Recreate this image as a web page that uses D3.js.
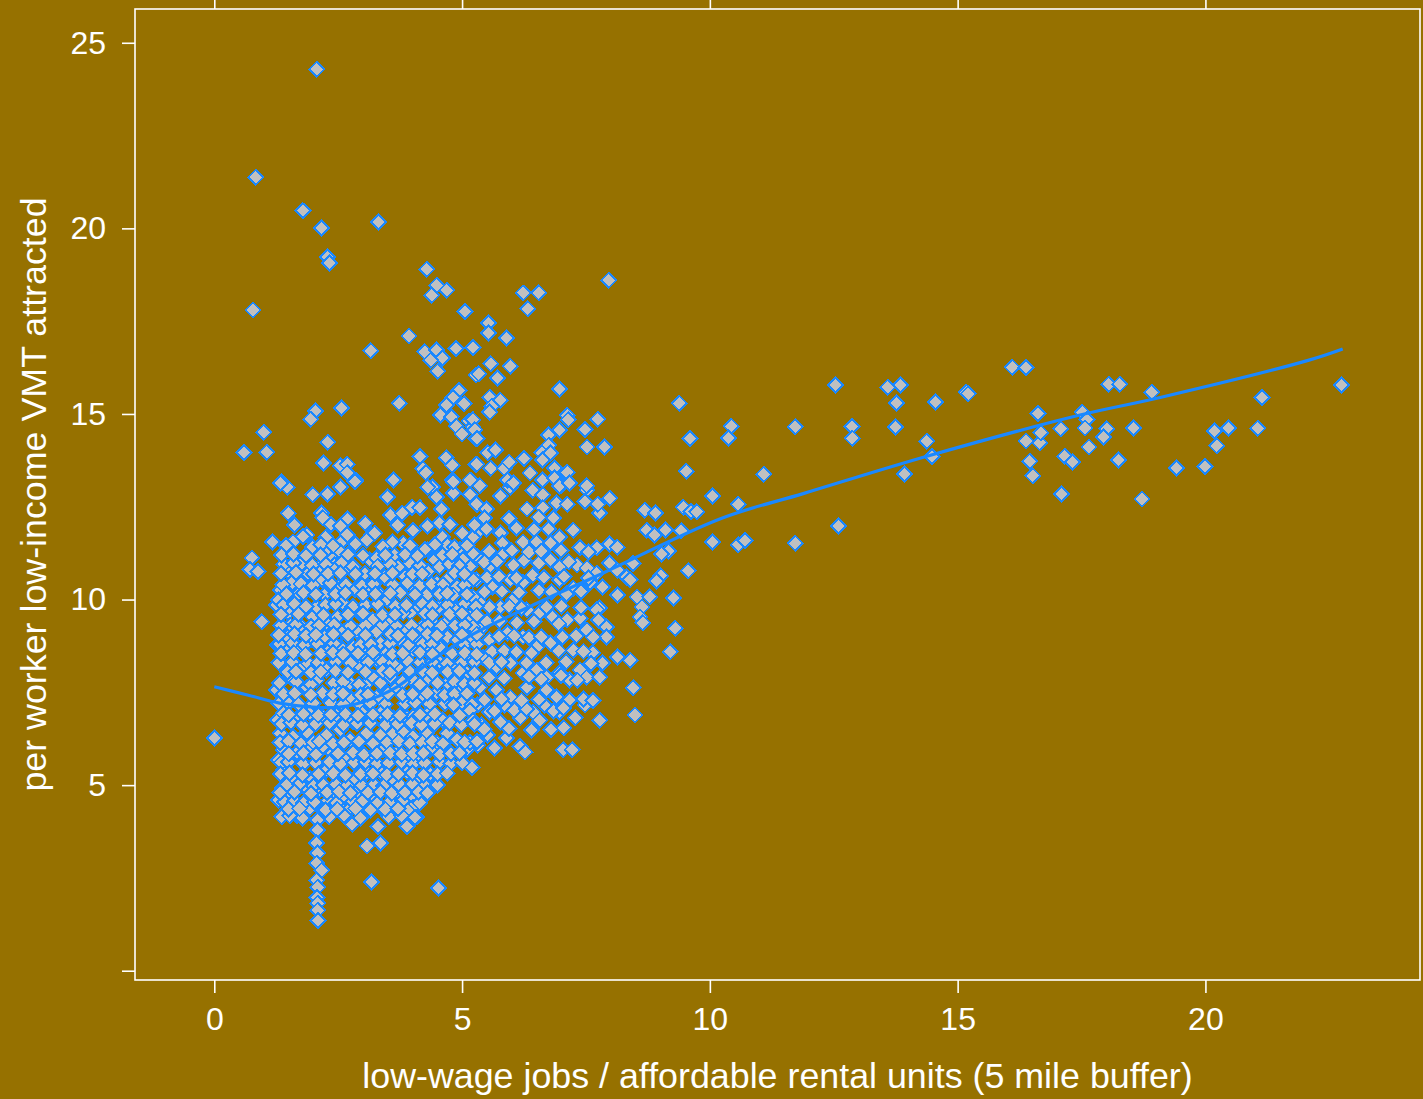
<!DOCTYPE html>
<html>
<head>
<meta charset="utf-8">
<script src="https://cdn.jsdelivr.net/npm/d3@7"></script>
<style>
  html, body { margin: 0; padding: 0; background: #967100; }
  svg { display: block; }
  text { font-family: "Liberation Sans", Arial, Helvetica, sans-serif; fill: #ffffff; }
</style>
</head>
<body>
<svg id="chart" width="1423" height="1099"></svg>
<script>
// Axis ticks
const xTicks = [0, 5, 10, 15, 20];
const yTicks = [0, 5, 10, 15, 20, 25];
const yTickLabels = ["", "5", "10", "15", "20", "25"];

const xTitle = "low-wage jobs / affordable rental units (5 mile buffer)";
const yTitle = "per worker low-income VMT attracted";

// Each observation: [low-wage jobs per affordable rental unit, per-worker low-income VMT]
const observations = [
  [2.07,24.29],[0.84,21.38],[1.79,20.47],[2.17,20.01],[3.32,20.17],[2.29,19.23],[2.33,19.07],
  [4.29,18.90],[4.49,18.47],[4.69,18.33],[4.39,18.20],[5.06,17.77],[0.78,17.80],[7.96,18.60],
  [6.23,18.26],[6.55,18.26],[6.33,17.83],[3.93,17.10],[3.16,16.70],[5.54,17.45],[5.54,17.18],
  [5.90,17.05],[5.22,16.78],[4.25,16.67],[4.49,16.72],[4.61,16.51],[4.37,16.45],[4.51,16.15],
  [4.88,16.77],[5.28,16.05],[5.58,16.35],[5.97,16.29],[5.34,16.08],[5.72,15.97],[6.97,15.67],
  [4.94,15.64],[4.82,15.45],[5.04,15.27],[4.68,15.24],[4.57,14.97],[4.78,14.92],[5.14,14.81],
  [4.88,14.67],[5.00,14.46],[5.22,14.65],[5.28,14.35],[3.73,15.29],[2.56,15.16],[2.05,15.08],
  [1.95,14.86],[1.00,14.51],[2.29,14.24],[1.06,13.97],[0.60,13.97],[4.15,13.85],[4.68,13.82],
  [4.21,13.52],[4.80,13.62],[2.21,13.68],[2.54,13.60],[2.68,13.65],[2.68,13.41],[2.86,13.22],
  [4.27,13.41],[4.80,13.22],[4.41,13.03],[5.18,13.22],[5.28,13.65],[3.61,13.22],[1.35,13.17],
  [1.47,13.03],[2.54,13.03],[5.56,15.45],[5.77,15.37],[5.60,15.21],[5.56,15.05],[5.22,14.84],
  [5.26,14.57],[5.30,14.33],[7.12,14.97],[7.14,14.84],[6.97,14.57],[6.75,14.43],[6.75,14.16],
  [7.48,14.59],[7.74,14.86],[7.52,14.11],[7.88,14.11],[6.61,13.95],[6.79,13.95],[6.63,13.76],
  [6.25,13.81],[5.52,13.95],[5.68,14.03],[5.30,13.65],[5.58,13.54],[5.85,13.54],[5.95,13.70],
  [6.37,13.41],[6.63,13.22],[6.87,13.54],[7.12,13.43],[6.87,13.27],[7.01,13.08],[7.52,12.95],
  [5.16,13.22],[5.97,13.03],
  // sparse right-hand tail
  [16.10,16.26],[16.38,16.26],[12.54,15.78],[13.59,15.72],[13.85,15.78],[15.17,15.59],[15.21,15.54],
  [18.05,15.80],[18.27,15.80],[18.92,15.59],[22.75,15.78],[9.38,15.29],[13.77,15.29],[14.56,15.32],
  [21.14,15.45],[16.62,15.02],[17.51,15.05],[17.61,14.84],[10.43,14.67],[10.38,14.35],
  [11.72,14.65],[12.87,14.67],[12.87,14.35],[13.75,14.65],[9.60,14.33],[14.38,14.27],[14.48,13.86],
  [16.38,14.27],[16.66,14.22],[16.68,14.49],[17.08,14.60],[17.57,14.62],[18.01,14.60],[17.95,14.38],
  [17.65,14.11],[18.55,14.62],[20.19,14.54],[20.47,14.62],[20.23,14.14],[21.06,14.62],
  [17.16,13.86],[17.32,13.70],[18.25,13.76],[16.46,13.73],[16.52,13.33],[19.42,13.54],[19.99,13.59],
  [9.52,13.46],[11.09,13.38],[13.93,13.38],[17.10,12.84],[18.72,12.71],[7.98,12.73],[10.06,12.79],
  [10.57,12.57],[8.69,12.41],[8.91,12.33],[9.46,12.49],[9.62,12.38],[9.74,12.36],[12.60,11.98],
  [8.73,11.87],[8.89,11.74],[9.11,11.87],[9.42,11.85],[10.06,11.55],[10.57,11.47],[10.71,11.60],
  [11.72,11.52],[7.98,11.50],[9.56,10.77],[9.01,10.64],[8.93,10.50],[9.17,11.31],[9.03,11.23],
  [7.78,12.33],
  [9.26,10.04],[8.53,10.07],[8.79,10.07],[8.63,9.80],[8.59,9.53],[8.65,9.37],[9.30,9.23],
  [9.20,8.59],[8.45,7.62],[8.49,6.89],
  // middle band, ratio 5 to 8.5
  [5.36,13.06],[5.91,13.22],[6.03,13.14],[6.43,12.95],[6.63,12.82],[6.97,13.06],[7.17,13.14],
  [7.52,13.06],[5.30,12.57],[5.77,12.79],[5.50,12.44],[6.31,12.44],[6.63,12.47],[6.91,12.60],
  [7.12,12.57],[7.48,12.65],[7.74,12.57],[7.24,11.87],[5.32,11.82],[5.77,11.79],[5.82,11.52],
  [6.23,11.55],[6.51,11.55],[6.78,11.52],[6.97,11.68],[7.38,11.41],[7.72,11.39],[8.13,11.41],
  [5.30,11.15],[5.56,10.88],[5.82,11.20],[6.03,10.93],[6.43,10.66],[6.78,11.07],[6.97,10.88],
  [7.32,10.93],[7.52,10.85],[7.72,10.71],[7.98,10.98],[8.13,10.79],[8.45,10.98],[8.32,10.61],
  [8.39,10.53],[5.30,10.53],[5.62,10.34],[5.97,10.53],[6.23,10.45],[6.97,10.53],[7.24,10.31],
  [7.58,10.45],[7.84,10.34],[8.13,10.12],[7.78,9.77],[7.72,9.72],[5.36,9.91],[5.77,9.80],
  [6.03,9.99],[6.31,9.72],[6.57,9.64],[6.83,9.53],[7.12,9.45],[7.38,9.50],[7.52,9.18],
  [7.92,9.26],[7.92,8.99],[8.13,8.45],[5.36,9.18],[5.56,8.91],[5.91,9.10],[6.23,8.99],
  [6.51,8.72],[6.78,8.83],[7.03,8.99],[7.24,8.64],[7.64,8.56],[7.84,8.29],[8.39,8.37],
  [5.42,8.45],[5.70,8.18],[5.97,8.29],[6.23,8.02],[6.51,8.10],[6.71,7.91],[6.97,8.02],
  [7.17,7.83],[7.38,8.10],[7.52,7.91],[7.78,7.91],[5.36,7.64],[5.70,7.56],[5.97,7.37],
  [6.31,7.64],[6.71,7.56],[6.91,7.37],[7.17,7.29],[7.32,7.83],
  [5.32,7.16],[5.56,6.97],[5.86,7.16],[6.17,6.81],[5.40,6.62],[5.52,6.35],[5.77,6.70],
  [6.43,6.97],[6.67,7.16],[6.97,6.97],[7.28,6.81],[7.48,7.16],[7.78,6.75],[6.57,6.75],
  [6.17,6.05],[6.27,5.89],[7.04,5.95],[7.22,5.95],[5.20,5.48],[5.89,6.27],[5.66,6.00],[5.32,6.08],
  [5.65,7.00],[6.05,7.02],[6.30,7.05],[6.85,7.00],[7.05,7.08],
  [5.55,7.90],[5.85,7.88],[6.35,7.92],[6.60,7.85],[7.00,7.95],
  [5.60,8.60],[5.85,8.62],[6.10,8.58],[6.40,8.55],[6.95,8.62],[7.45,8.60],
  [5.50,9.40],[5.75,9.42],[6.10,9.38],[6.45,9.40],[6.95,9.35],[7.75,9.45],
  [5.45,10.20],[5.80,10.22],[6.15,10.18],[6.55,10.25],[6.80,10.20],[7.10,10.15],[7.40,10.22],
  [5.45,11.00],[5.70,11.02],[6.25,11.05],[6.55,10.98],[7.15,11.02],
  [5.45,12.20],[5.95,12.18],[6.55,12.22],[6.85,12.20],
  [5.45,6.50],[5.95,6.52],[6.40,6.48],[6.80,6.50],[7.05,6.55],
  [5.45,7.30],[5.80,7.32],[6.20,7.28],[6.55,7.30],[7.45,7.32],[7.65,7.28],
  [5.55,8.30],[5.80,8.32],[6.30,8.28],[6.70,8.30],[7.10,8.32],[7.60,8.28],
  [5.75,9.00],[6.05,9.02],[6.35,8.98],[6.60,9.00],[7.30,9.02],[7.65,8.98],
  [5.55,9.80],[5.95,9.82],[6.20,9.78],[6.70,9.80],[7.00,9.82],[7.40,9.78],
  [5.50,10.60],[5.75,10.62],[6.10,10.58],[6.65,10.60],[7.05,10.62],[7.55,10.58],
  [5.55,11.30],[6.00,11.32],[6.35,11.28],[6.60,11.30],[7.00,11.32],[7.55,11.28],
  [5.50,11.90],[6.10,11.92],[6.45,11.88],[6.75,11.90],
  // dense core, ratio 0.7 to 5.3
  [1.33,13.14],[1.99,12.82],[2.29,12.84],[2.84,13.17],[3.50,12.76],[4.31,13.03],[4.49,12.76],
  [4.59,12.44],[4.82,12.87],[5.16,12.82],[4.82,13.17],[1.49,12.33],[2.17,12.33],[2.19,12.20],
  [2.68,12.17],[1.87,11.74],[1.79,11.69],[1.59,11.55],[1.18,11.55],[2.25,11.68],[2.68,11.74],
  [2.54,11.52],[3.55,12.28],[3.79,12.33],[3.99,12.49],[4.15,12.47],[4.01,11.87],[3.81,11.52],
  [3.59,11.55],[3.63,11.20],[3.18,11.74],[3.24,11.79],[3.08,11.60],[4.55,12.06],[4.61,11.68],
  [4.70,11.47],[4.31,11.34],[4.25,11.34],[4.45,11.07],[5.00,11.79],[5.22,11.68],[5.22,11.25],
  [5.16,10.88],[5.22,10.53],[4.96,11.34],[5.02,11.07],[0.76,11.12],[0.72,10.80],[0.88,10.75],
  [1.49,10.75],[1.73,10.93],[1.89,10.71],[2.13,10.88],[2.37,11.20],[2.54,11.28],[2.27,11.34],
  [2.43,10.93],[2.68,10.88],[2.80,10.88],[3.14,11.07],[3.28,11.12],[3.04,10.71],[3.44,10.61],
  [3.71,10.88],[3.85,10.61],[3.10,10.34],[4.31,10.75],[4.55,10.88],[4.70,10.53],[4.49,10.45],
  [4.90,10.34],[4.82,10.12],[5.22,10.07],[1.33,10.26],[1.57,10.45],[1.67,10.12],[1.93,10.26],
  [2.17,10.53],[2.23,10.12],[2.50,10.34],[2.84,10.26],[2.58,9.91],[3.35,10.12],[3.50,9.99],
  [3.75,10.18],[4.01,10.34],[3.95,9.64],[4.29,10.12],[4.11,9.85],[4.55,9.80],[4.90,9.77],
  [5.16,9.53],[4.72,9.45],[4.41,9.37],[4.19,9.26],[5.22,9.26],[1.26,9.85],[1.49,9.64],
  [0.96,9.40],[1.53,9.31],[1.77,9.26],[1.99,9.53],[2.07,9.80],[2.27,9.37],[2.48,9.53],
  [2.60,9.13],[2.98,9.58],[3.20,9.45],[2.88,9.13],[3.28,9.13],[3.55,9.45],[3.81,9.64],
  [3.89,9.18],[3.75,8.91],[3.35,8.83],[4.09,8.96],[1.47,8.99],[1.43,8.64],[1.69,8.72],
  [1.97,8.91],[2.23,8.99],[2.33,8.64],[2.54,8.72],[2.80,8.72],[2.68,8.42],[3.00,8.56],
  [2.90,8.24],[3.28,8.37],[3.48,8.56],[3.69,8.18],[3.89,8.37],[4.01,8.64],[4.29,8.64],
  [4.55,8.72],[4.70,8.99],[4.90,8.91],[4.55,8.32],[4.82,8.18],[5.16,8.45],[5.16,8.96],
  [5.10,8.02],[4.90,7.56],[1.39,8.24],[1.53,7.91],[1.73,8.10],[1.87,7.64],[2.07,7.83],
  [2.27,8.10],[2.19,7.48],[2.48,7.56],[2.74,7.75],[2.74,7.35],[3.08,7.75],[3.20,7.91],
  [3.55,7.91],[3.69,7.64],[3.28,7.37],[4.01,7.83],[4.29,7.83],[4.15,7.37],[4.49,7.48],
  [4.70,7.75],[1.30,9.99],[1.28,8.77],[1.26,7.56],[1.28,6.75],[1.30,5.68],[1.30,4.60],
  [1.62,12.00],[2.35,12.02],[2.55,11.98],[3.05,12.05],[3.70,12.00],[4.30,11.98],[4.75,12.02],[5.25,12.00],
  [1.45,11.45],[1.98,11.42],[2.15,11.48],[2.40,11.45],[2.85,11.50],[3.40,11.42],[3.95,11.45],[4.45,11.48],[4.85,11.42],[5.10,11.45],
  [1.40,10.95],[1.60,10.98],[1.98,10.92],[2.25,10.95],[2.58,11.00],[3.30,10.90],[3.55,10.95],[3.95,10.98],[4.15,10.92],[4.75,10.95],[4.95,10.90],
  [1.38,10.40],[1.75,10.42],[2.00,10.38],[2.35,10.45],[2.65,10.40],[2.98,10.38],[3.22,10.42],[3.60,10.40],[3.90,10.45],[4.15,10.38],[4.38,10.42],[4.62,10.40],[5.05,10.38],
  [1.40,9.85],[1.62,9.88],[1.85,9.82],[2.25,9.85],[2.45,9.88],[2.80,9.82],[3.05,9.85],[3.30,9.88],[3.65,9.82],[3.88,9.85],[4.20,9.88],[4.40,9.82],[4.70,9.85],[5.05,9.88],[5.28,9.82],
  [1.35,9.30],[1.65,9.32],[1.95,9.28],[2.12,9.30],[2.42,9.32],[2.75,9.28],[3.05,9.30],[3.40,9.32],[3.68,9.28],[3.98,9.30],[4.30,9.32],[4.58,9.28],[4.85,9.30],[5.05,9.32],
  [1.32,8.80],[1.58,8.82],[1.82,8.78],[2.08,8.80],[2.42,8.82],[2.95,8.78],[3.15,8.80],[3.55,8.82],[3.92,8.78],[4.20,8.80],[4.40,8.82],[5.05,8.78],[5.30,8.80],
  [1.30,8.30],[1.58,8.32],[1.90,8.28],[2.10,8.30],[2.45,8.32],[2.75,8.28],[3.10,8.30],[3.40,8.32],[3.60,8.28],[4.15,8.30],[4.40,8.32],[4.70,8.28],[5.00,8.30],[5.25,8.32],
  [1.32,7.75],[1.65,7.78],[1.95,7.72],[2.40,7.75],[2.60,7.78],[2.92,7.72],[3.35,7.75],[3.80,7.78],[4.15,7.72],[4.50,7.75],[4.85,7.78],[5.05,7.72],[5.25,7.75],
  [1.30,7.20],[1.50,7.22],[1.70,7.18],[2.00,7.20],[2.35,7.22],[2.60,7.18],[2.92,7.20],[3.15,7.22],[3.45,7.18],[3.85,7.20],[4.05,7.22],[4.35,7.18],[4.65,7.20],[5.00,7.22],[5.20,7.18],
  [1.35,11.20],[1.60,11.22],[1.85,11.18],[2.15,11.20],[2.70,11.22],[3.00,11.18],[3.45,11.20],[3.85,11.22],[4.10,11.18],[4.60,11.20],[4.80,11.22],
  [1.35,10.70],[1.65,10.72],[2.00,10.68],[2.30,10.70],[2.55,10.72],[2.85,10.68],[3.25,10.70],[3.60,10.72],[4.00,10.68],[4.20,10.70],[4.85,10.72],[5.05,10.68],
  [1.45,10.15],[1.80,10.17],[2.05,10.13],[2.45,10.15],[2.65,10.17],[3.00,10.13],[3.25,10.15],[3.55,10.17],[4.05,10.13],[4.55,10.15],[4.70,10.17],[5.10,10.13],
  [1.35,9.60],[1.70,9.62],[2.20,9.58],[2.70,9.60],[3.00,9.62],[3.40,9.58],[3.65,9.60],[4.25,9.62],[4.40,9.58],[4.75,9.60],[5.00,9.62],[5.30,9.58],
  [1.30,9.05],[1.62,9.07],[1.85,9.03],[2.05,9.05],[2.40,9.07],[2.70,9.03],[3.05,9.05],[3.55,9.07],[3.70,9.03],[4.00,9.05],[4.30,9.07],[4.50,9.03],[5.00,9.05],[5.30,9.07],
  [1.35,8.55],[1.60,8.57],[1.85,8.53],[2.15,8.55],[2.40,8.57],[2.60,8.53],[2.90,8.55],[3.20,8.57],[3.60,8.53],[3.80,8.55],[4.15,8.57],[4.40,8.53],[4.80,8.55],[5.05,8.57],[5.30,8.53],
  [1.48,8.05],[1.65,8.07],[1.95,8.03],[2.15,8.05],[2.45,8.07],[2.70,8.03],[3.05,8.05],[3.40,8.07],[3.55,8.03],[3.95,8.05],[4.20,8.07],[4.40,8.03],[4.70,8.05],[4.95,8.07],[5.25,8.03],
  [1.40,7.45],[1.62,7.47],[1.95,7.43],[2.40,7.45],[2.60,7.47],[2.95,7.43],[3.10,7.45],[3.50,7.47],[3.80,7.43],[4.00,7.45],[4.30,7.47],[4.65,7.43],[4.85,7.45],[5.10,7.47],
  // lower core and the long tail near ratio 2
  [1.39,6.94],[1.67,6.81],[1.93,6.94],[2.19,6.84],[2.47,6.89],[2.80,6.70],[3.00,6.94],
  [3.35,6.94],[3.61,6.81],[3.89,6.81],[4.01,6.84],[4.29,6.89],[4.61,6.75],[4.82,7.16],
  [5.16,7.02],[5.22,6.75],[4.70,6.40],[4.90,6.22],[5.10,5.95],[5.16,6.14],[1.33,6.40],
  [1.59,6.30],[1.87,6.43],[2.27,6.35],[2.54,6.49],[2.74,6.22],[3.08,6.40],[3.35,6.35],
  [3.61,6.40],[3.81,6.43],[4.01,6.30],[4.29,6.40],[4.49,6.14],[1.39,5.95],[1.67,5.87],
  [1.93,5.95],[2.19,6.03],[2.39,5.87],[2.68,5.73],[2.94,5.87],[3.14,5.73],[3.40,5.95],
  [3.69,5.87],[3.89,5.76],[4.15,5.68],[4.35,5.95],[1.39,5.41],[1.59,5.14],[1.93,5.19],
  [2.27,5.41],[2.54,5.33],[2.80,5.14],[3.08,5.33],[3.35,5.35],[3.61,5.14],[3.89,5.35],
  [4.09,5.06],[4.35,5.33],[1.37,4.92],[1.53,4.68],[1.87,4.92],[2.13,4.87],[2.39,4.79],
  [2.60,4.60],[2.88,4.79],[3.20,4.60],[3.48,4.87],[3.69,4.60],[3.95,4.68],[4.01,4.41],
  [4.09,4.14],[1.47,4.33],[1.67,4.19],[1.93,4.38],[2.19,4.33],[2.54,4.41],[2.74,4.38],
  [3.08,4.33],[3.35,4.41],[3.61,4.52],[3.89,4.33],[3.89,3.88],[2.09,4.06],[2.09,3.79],
  [2.07,3.44],[2.09,3.17],[2.07,2.90],[2.17,2.71],[2.07,2.44],[2.09,2.25],[2.07,1.98],
  [2.09,1.82],[2.09,1.63],[2.09,1.36],[2.78,3.95],[3.30,3.88],[3.35,3.44],[3.08,3.36],
  [3.18,2.39],[4.52,2.23],[4.37,5.30],[0.00,6.27],
  [1.36,6.65],[1.55,6.68],[1.78,6.62],[2.05,6.65],[2.33,6.68],[2.60,6.62],[2.88,6.65],[3.15,6.68],[3.45,6.62],[3.70,6.65],[3.98,6.68],[4.18,6.62],[4.45,6.65],[4.75,6.68],[4.98,6.62],[5.25,6.65],
  [1.32,6.15],[1.50,6.18],[1.75,6.12],[2.00,6.15],[2.12,6.18],[2.40,6.12],[2.62,6.15],[2.92,6.18],[3.20,6.12],[3.48,6.15],[3.72,6.18],[3.95,6.12],[4.20,6.15],[4.40,6.18],[4.62,6.12],[5.05,6.15],[5.30,6.18],
  [1.35,5.60],[1.50,5.62],[1.80,5.58],[2.05,5.60],[2.33,5.62],[2.55,5.58],[2.82,5.60],[3.05,5.62],[3.28,5.58],[3.52,5.60],[3.78,5.62],[4.02,5.58],[4.25,5.60],[4.55,5.62],[4.78,5.58],[5.00,5.60],
  [1.45,5.00],[1.72,5.02],[2.00,4.98],[2.20,5.00],[2.45,5.02],[2.68,4.98],[2.98,5.00],[3.22,5.02],[3.42,4.98],[3.75,5.00],[4.00,5.02],[4.25,4.98],[4.50,5.00],
  [1.42,4.55],[1.62,4.58],[1.80,4.52],[2.02,4.55],[2.30,4.58],[2.47,4.52],[2.80,4.55],[3.00,4.58],[3.30,4.52],[3.55,4.55],[3.80,4.58],[4.15,4.52],
  [1.36,4.15],[1.52,4.18],[1.78,4.12],[2.32,4.15],[2.62,4.18],[2.95,4.12],[3.52,4.15],[3.78,4.18],[4.05,4.12],
  [1.50,6.90],[1.80,6.92],[2.10,6.88],[2.35,6.90],[2.65,6.92],[2.90,6.88],[3.20,6.90],[3.50,6.92],[3.75,6.88],[4.15,6.90],[4.45,6.92],[4.95,6.88],
  [1.50,5.85],[1.80,5.87],[2.05,5.83],[2.50,5.85],[2.80,5.87],[3.02,5.83],[3.28,5.85],[3.55,5.87],[3.78,5.83],[4.02,5.85],[4.22,5.87],[4.55,5.83],[4.78,5.85],[4.95,5.87],
  [1.33,5.30],[1.52,5.32],[1.78,5.28],[2.10,5.30],[2.40,5.32],[2.65,5.28],[2.95,5.30],[3.20,5.32],[3.48,5.28],[3.72,5.30],[4.00,5.32],[4.22,5.28],[4.50,5.30],[4.70,5.32],
  [1.33,4.80],[1.62,4.82],[1.95,4.78],[2.28,4.80],[2.52,4.82],[2.75,4.78],[3.10,4.80],[3.35,4.82],[3.58,4.78],[3.85,4.80],[4.12,4.82],[4.30,4.78],
  [1.50,4.35],[1.72,4.37],[2.25,4.33],[2.48,4.35],[2.85,4.37],[3.15,4.33],[3.45,4.35],[3.70,4.37]
];

// Smoothed trend of VMT against the jobs/housing ratio
const trendRatio = [0.00, 0.67, 1.32, 1.99, 2.53, 3.00, 3.68, 4.35, 5.16, 6.51, 7.84, 10.24, 11.90, 14.38, 17.47, 19.11, 22.09, 22.77];
const trendVmt   = [7.65, 7.43, 7.21, 7.10, 7.10, 7.24, 7.64, 8.32, 9.02, 9.90, 10.71, 12.19, 12.86, 13.86, 14.97, 15.45, 16.45, 16.75];

const svg = d3.select("#chart");
const W = 1423, H = 1099;
const box = { left: 135, right: 1420, top: 9, bottom: 980 };

svg.append("rect").attr("width", W).attr("height", H).attr("fill", "#967100");

const x = d3.scaleLinear().domain([-1.6, 24.33]).range([box.left, box.right]);
const y = d3.scaleLinear().domain([-0.25, 25.91]).range([box.bottom, box.top]);

const white = "#ffffff";
const tickLen = 13;

// Panel frame
svg.append("rect")
  .attr("x", box.left).attr("y", box.top)
  .attr("width", box.right - box.left).attr("height", box.bottom - box.top)
  .attr("fill", "none").attr("stroke", white).attr("stroke-width", 1.6);

// Bottom axis
const xAxis = d3.axisBottom(x).tickValues(xTicks).tickSizeInner(tickLen).tickSizeOuter(0).tickPadding(14)
  .tickFormat(d3.format("d"));
const gx = svg.append("g").attr("transform", `translate(0,${box.bottom})`).call(xAxis);
gx.select(".domain").remove();

// Top ticks, no labels
const xAxisTop = d3.axisTop(x).tickValues(xTicks).tickSizeInner(box.top).tickSizeOuter(0).tickFormat("");
const gxt = svg.append("g").attr("transform", `translate(0,${box.top})`).call(xAxisTop);
gxt.select(".domain").remove();

// Left axis
const yAxis = d3.axisLeft(y).tickValues(yTicks).tickSizeInner(tickLen).tickSizeOuter(0).tickPadding(16)
  .tickFormat((d, i) => yTickLabels[i]);
const gy = svg.append("g").attr("transform", `translate(${box.left},0)`).call(yAxis);
gy.select(".domain").remove();

svg.selectAll(".tick line").attr("stroke", white).attr("stroke-width", 1.6);
svg.selectAll(".tick text")
  .attr("fill", white)
  .style("font-family", "'Liberation Sans', Arial, sans-serif")
  .style("font-size", "32px");

// Axis titles
svg.append("text")
  .attr("x", (box.left + box.right) / 2).attr("y", 1088)
  .attr("text-anchor", "middle")
  .style("font-size", "35.8px")
  .text(xTitle);

svg.append("text")
  .attr("transform", `translate(46,${(box.top + box.bottom) / 2}) rotate(-90)`)
  .attr("text-anchor", "middle")
  .style("font-size", "35.8px")
  .text(yTitle);

// Points as diamonds, drawn without anti-aliasing for crisp outlines
const plot = svg.append("g");
const r = 7.5;
const diamond = `M0,${-r}L${r},0L0,${r}L${-r},0Z`;
plot.selectAll("path.pt")
  .data(observations)
  .join("path")
  .attr("class", "pt")
  .attr("d", diamond)
  .attr("transform", d => `translate(${x(d[0])},${y(d[1])})`)
  .attr("fill", "#c0c0c0")
  .attr("stroke", "#1a88ff")
  .attr("stroke-width", 2)
  .attr("shape-rendering", "crispEdges");

// Trend line
const trend = trendRatio.map((v, i) => [v, trendVmt[i]]);
plot.append("path")
  .datum(trend)
  .attr("fill", "none")
  .attr("stroke", "#1a88ff")
  .attr("stroke-width", 3.2)
  .attr("d", d3.line().x(d => x(d[0])).y(d => y(d[1])).curve(d3.curveCatmullRom.alpha(0.5)));
</script>
</body>
</html>
